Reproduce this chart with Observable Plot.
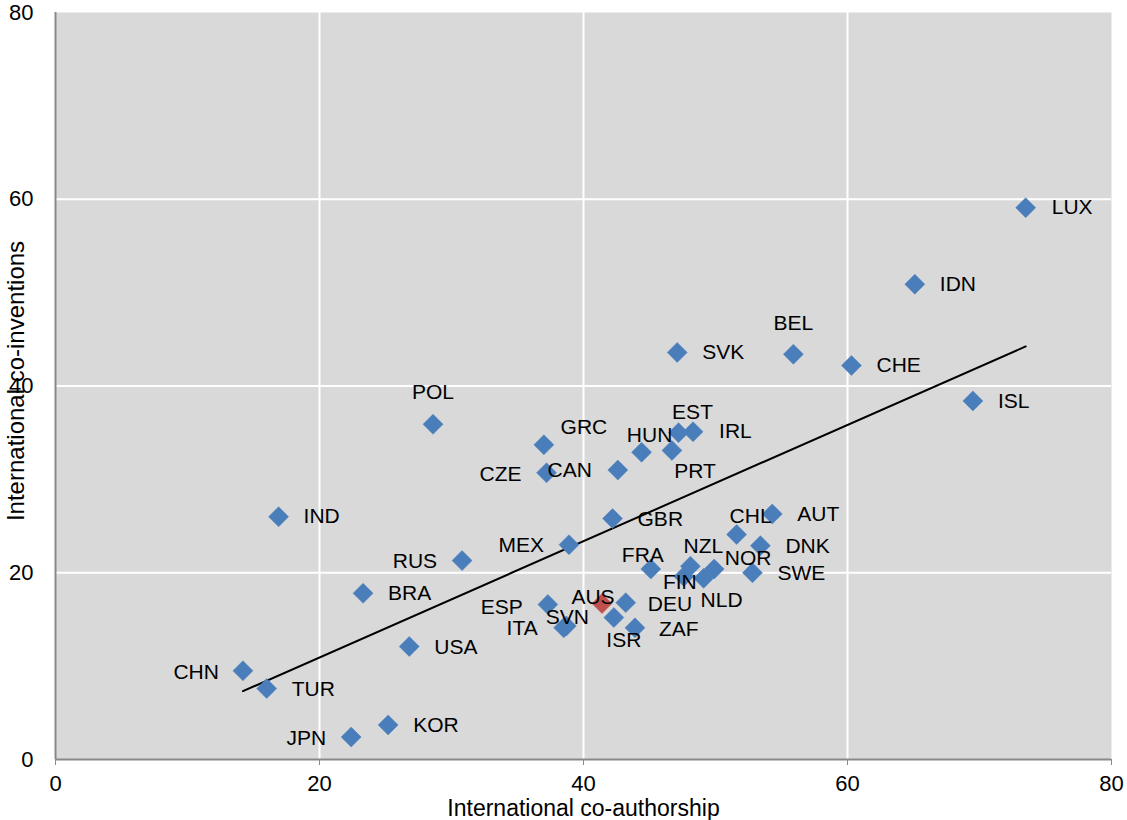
<!DOCTYPE html>
<html><head><meta charset="utf-8">
<script src="https://cdn.jsdelivr.net/npm/d3@7"></script>
<script src="https://cdn.jsdelivr.net/npm/@observablehq/plot@0.6"></script>
<style>
body{margin:0;background:#fff;}
#chart svg{display:block;}
</style>
</head><body><div id="chart"></div>
<script>
// ---- data ----
const countries = ["LUX","IDN","BEL","SVK","CHE","ISL","POL","GRC","EST","IRL","HUN","PRT","CAN","CZE","IND","GBR","CHL","AUT","MEX","RUS","DNK","FRA","NZL","NOR","SWE","FIN","NLD","BRA","ESP","AUS","DEU","ISR","ITA","SVN","ZAF","USA","CHN","TUR","KOR","JPN"];
const coAuthorship = [73.5,65.1,55.9,47.1,60.3,69.5,28.6,37.0,47.2,48.3,44.4,46.7,42.6,37.2,16.9,42.2,51.6,54.3,38.9,30.8,53.4,45.1,48.1,49.9,52.8,47.6,49.1,23.3,37.3,41.4,43.2,42.3,38.5,38.7,43.9,26.8,14.2,16.0,25.2,22.4];
const coInventions = [59.1,50.9,43.4,43.6,42.2,38.4,35.9,33.7,35.0,35.1,32.9,33.1,31.0,30.7,26.0,25.8,24.1,26.3,23.0,21.3,22.9,20.4,20.7,20.4,20.0,19.6,19.4,17.8,16.6,16.7,16.8,15.2,14.1,14.3,14.1,12.1,9.5,7.6,3.7,2.4];
const highlighted = ["AUS"];
const xTicks = [0,20,40,60,80];
const yTicks = [0,20,40,60,80];
const xTitle = "International co-authorship";
const yTitle = "International co-inventions";

// label placement: [textAnchor, dx, dy] in pixels
const labelPlace = {
  LUX:["start",26,0], IDN:["start",25,0], BEL:["middle",0,-31], SVK:["start",25,0], CHE:["start",25,0],
  ISL:["start",25,0], POL:["middle",0,-32], GRC:["middle",40,-18], EST:["middle",14,-20], IRL:["start",26,0],
  HUN:["middle",8,-17], PRT:["middle",23,21], CAN:["end",-26,0], CZE:["end",-25,1], IND:["start",25,0],
  GBR:["start",25,1], CHL:["middle",14,-18], AUT:["start",25,0], MEX:["end",-25,1], RUS:["end",-25,1],
  DNK:["start",25,1], FRA:["middle",-8,-14], NZL:["middle",13,-20], NOR:["middle",34,-11], SWE:["start",25,1],
  FIN:["middle",-4,6], NLD:["middle",18,22], BRA:["start",25,0], ESP:["end",-25,3], AUS:["middle",-9,-6],
  DEU:["start",22,2], ISR:["middle",10,23], ITA:["end",-26,0], SVN:["middle",1,-9], ZAF:["start",24,1],
  USA:["start",25,1], CHN:["end",-24,1], TUR:["start",25,1], KOR:["start",25,0], JPN:["end",-25,1]
};

const data = countries.map((c,i)=>({c, x:coAuthorship[i], y:coInventions[i], hl:highlighted.includes(c)}));

const diamond = {draw(ctx, size){ const r = Math.sqrt(size)*0.62625; ctx.moveTo(0,-r); ctx.lineTo(r,0); ctx.lineTo(0,r); ctx.lineTo(-r,0); ctx.closePath(); }};

const font = "'Liberation Sans', Arial, sans-serif";
const labelMarks = data.map(d => {
  const p = labelPlace[d.c] || ["start",25,0];
  return Plot.text([d], {x:"x", y:"y", text:"c", textAnchor:p[0], dx:p[1], dy:p[2], fontSize:21, fill:"#000"});
});

const chart = Plot.plot({
  width:1127, height:820,
  marginTop:12, marginRight:16, marginBottom:61, marginLeft:55,
  style:{fontFamily:font, fontSize:"22px", background:"#fff", color:"#000"},
  x:{domain:[0,80], ticks:xTicks, label:null},
  y:{domain:[0,80], ticks:yTicks, label:null},
  marks:[
    Plot.frame({fill:"#d9d9d9", stroke:null}),
    Plot.gridX(xTicks.slice(1,-1), {stroke:"#fff", strokeOpacity:1, strokeWidth:2}),
    Plot.gridY(yTicks.slice(1,-1), {stroke:"#fff", strokeOpacity:1, strokeWidth:2}),
    Plot.ruleX([0], {stroke:"#898989", strokeWidth:2}),
    Plot.ruleY([0], {stroke:"#898989", strokeWidth:2}),
    Plot.axisX(xTicks, {tickSize:6, tickPadding:10, stroke:"#898989", fill:"#000", label:null}),
    Plot.axisY(yTicks, {tickSize:0, tickPadding:22, fill:"#000", label:null}),
    Plot.linearRegressionY(data, {x:"x", y:"y", ci:0, stroke:"#000", strokeWidth:2}),
    Plot.dot(data, {x:"x", y:"y", symbol:diamond, r:9, fill:d=>d.hl ? "#c0504d" : "#4a7ebb", stroke:d=>d.hl ? "#c0504d" : "#4a7ebb", strokeWidth:0.5}),
    ...labelMarks,
    Plot.text([xTitle], {frameAnchor:"bottom", dy:49, text:d=>d, fontSize:23, textAnchor:"middle", lineAnchor:"middle"}),
    Plot.text([yTitle], {frameAnchor:"left", dx:-39, dy:-5, rotate:-90, text:d=>d, fontSize:24, textAnchor:"middle", lineAnchor:"middle"})
  ]
});
document.getElementById("chart").append(chart);
</script>
</body></html>
